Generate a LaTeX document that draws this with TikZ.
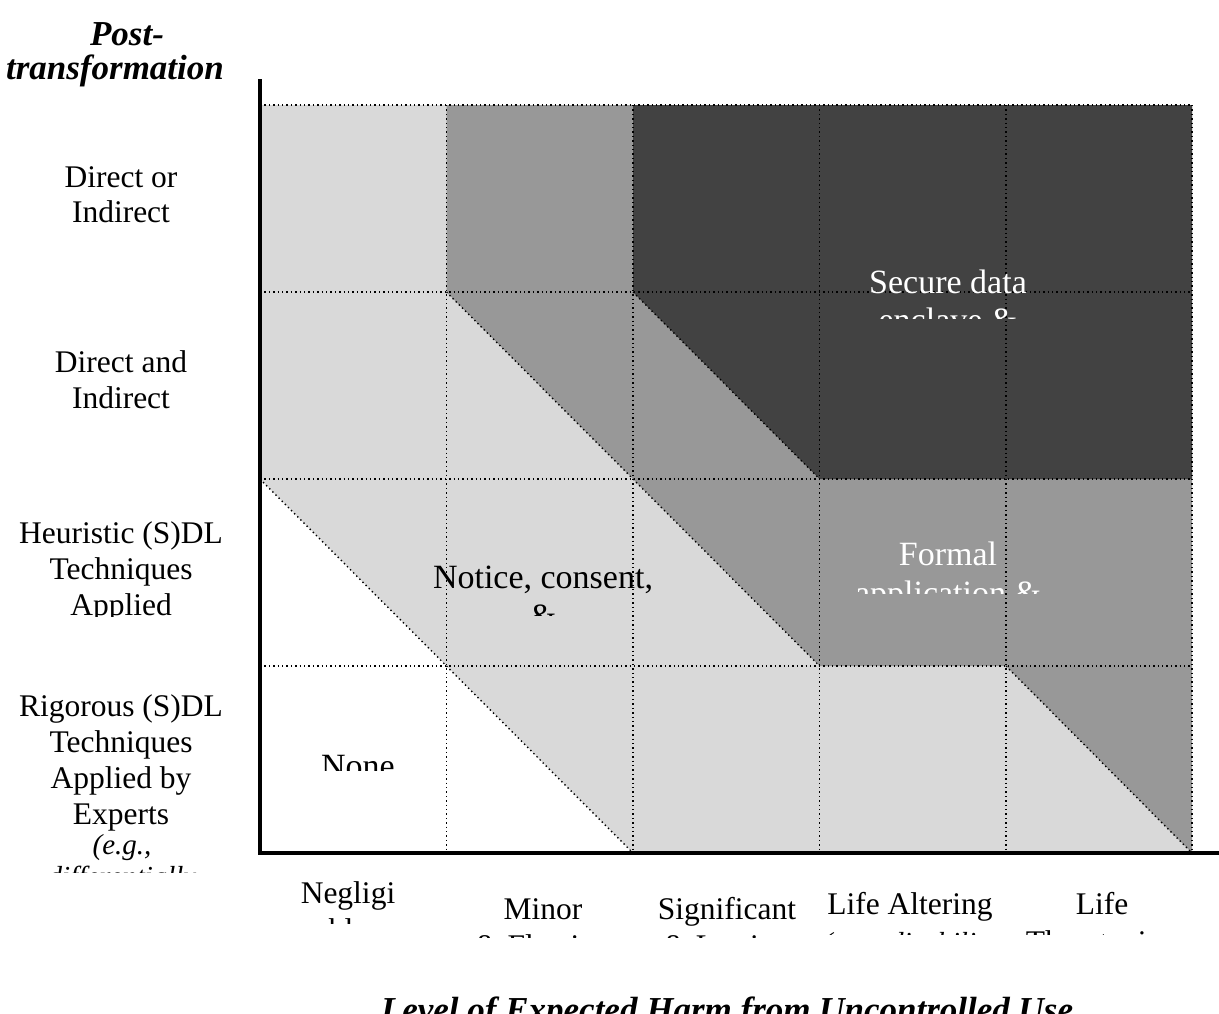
\documentclass[tikz,border=0pt]{standalone}
\usepackage{fontspec}
\setmainfont{Liberation Serif}
\definecolor{lightg}{RGB}{217,217,217}
\definecolor{midg}{RGB}{152,152,152}
\definecolor{darkg}{RGB}{66,66,66}
\begin{document}
\begin{tikzpicture}[x=1pt,y=-1pt,
  lbl/.style={inner sep=0pt, anchor=base, font=\fontsize{31.5}{36}\selectfont},
  mlbl/.style={inner sep=0pt, anchor=base, font=\fontsize{34}{39}\selectfont},
  ilbl/.style={inner sep=0pt, anchor=base, font=\fontsize{29}{32}\selectfont\itshape},
  ttl/.style={inner sep=0pt, anchor=base, font=\fontsize{35}{40}\selectfont\bfseries\itshape},
  wlbl/.style={mlbl, text=white},
  gridline/.style={black, line width=1.4pt, dash pattern=on 1.4pt off 3pt},
  axisline/.style={black, line width=3.6pt},
]
\useasboundingbox (0,0) rectangle (1219,1013);
% fills
\fill[lightg] (260,105) rectangle (1192,853);
\fill[midg] (446.5,105) -- (1192,105) -- (1192,853) -- (1006,666) -- (819.5,666) -- (446.5,292) -- cycle;
\fill[darkg] (633,105) -- (1192,105) -- (1192,479) -- (819.5,479) -- (633,292) -- cycle;
\fill[white] (260,479) -- (633,853) -- (260,853) -- cycle;
% dotted grid
\foreach \yy in {105,292,479,666} \draw[gridline] (260,\yy) -- (1192,\yy);
\foreach \xx in {446.5,633,819.5,1006,1192} \draw[gridline] (\xx,105) -- (\xx,853);
\draw[gridline] (260,479) -- (633,853);
\draw[gridline] (446.5,292) -- (819.5,666);
\draw[gridline] (633,292) -- (819.5,479);
\draw[gridline] (1006,666) -- (1192,853);
% axes
\draw[axisline] (260,79) -- (260,853) -- (1219,853);
% y axis title
\node[ttl] (pt1) at (127,45) {Post-};
\node[ttl] (pt2) at (115,79) {transformation};
% left labels
\node[lbl] (y1a) at (121,187) {Direct or};
\node[lbl] (y1b) at (121,222) {Indirect};
\node[lbl] (y2a) at (121,372) {Direct and};
\node[lbl] (y2b) at (121,408) {Indirect};
\begin{scope}
\clip (0,500) rectangle (256,616);
\node[lbl] (y3a) at (121,543) {Heuristic (S)DL};
\node[lbl] (y3b) at (121,579) {Techniques};
\node[lbl] (y3c) at (121,615) {Applied};
\end{scope}
\begin{scope}
\clip (0,680) rectangle (256,872);
\node[lbl] (y4a) at (121,716) {Rigorous (S)DL};
\node[lbl] (y4b) at (121,752) {Techniques};
\node[lbl] (y4c) at (121,788) {Applied by};
\node[lbl] (y4d) at (121,824) {Experts};
\node[ilbl] (y4e) at (122,854) {(e.g.,};
\node[ilbl] (y4f) at (122,886) {differentially};
\end{scope}
% region labels
\begin{scope}
\clip (830,250) rectangle (1070,318);
\node[wlbl] (sa) at (948,293) {Secure data};
\node[wlbl] (sb) at (948,331) {enclave \&};
\end{scope}
\begin{scope}
\clip (830,520) rectangle (1070,593);
\node[wlbl] (fa) at (948,565) {Formal};
\node[wlbl] (fb) at (948,604) {application \&};
\end{scope}
\begin{scope}
\clip (420,550) rectangle (670,615);
\node[mlbl] (na) at (543,588) {Notice, consent,};
\node[mlbl] (nb) at (543,627) {\&};
\end{scope}
\begin{scope}
\clip (300,740) rectangle (420,770);
\node[mlbl] (none) at (358,777) {None};
\end{scope}
% x labels
\begin{scope}
\clip (280,870) rectangle (420,923);
\node[lbl] (x1a) at (348,903) {Negligi};
\node[lbl] (x1b) at (348,940) {ble};
\end{scope}
\begin{scope}
\clip (470,870) rectangle (620,937);
\node[lbl] (x2a) at (543,919) {Minor};
\node[lbl] (x2b) at (543,956) {\& Fleeting};
\end{scope}
\begin{scope}
\clip (640,870) rectangle (815,937);
\node[lbl] (x3a) at (727,919) {Significant};
\node[lbl] (x3b) at (727,956) {\& Lasting};
\end{scope}
\begin{scope}
\clip (820,870) rectangle (1000,934);
\node[lbl] (x4a) at (910,914) {Life Altering};
\node[ilbl] (x4b) at (910,952) {(e.g., disability};
\end{scope}
\begin{scope}
\clip (1010,870) rectangle (1200,934);
\node[lbl] (x5a) at (1102,914) {Life};
\node[lbl] (x5b) at (1102,952) {Threatening};
\end{scope}
% x axis title
\begin{scope}
\clip (0,960) rectangle (1219,1013);
\node[ttl] (xt) at (727,1021) {Level of Expected Harm from Uncontrolled Use};
\end{scope}
\end{tikzpicture}
\end{document}
